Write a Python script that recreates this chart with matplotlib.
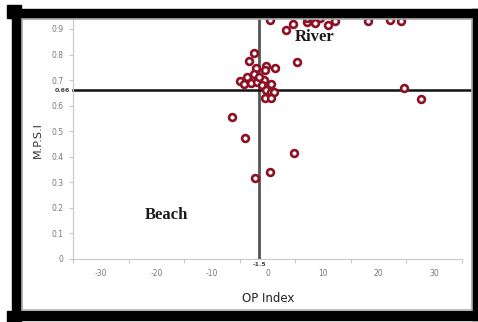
import matplotlib
matplotlib.use("Agg")
import matplotlib.pyplot as plt
from matplotlib.patches import Rectangle

# Data
op_index = [0.4, 3.3, 4.5, 7.1, 7.1, 8.5, 9.5, 10.9, 12.2, 18.0, 22.0, 24.0,
            5.3, -2.4, -3.3, -2.0, -0.2, -0.4, 1.3, -2.4, -3.6, -4.9, -4.2,
            -2.9, -1.8, -0.7, -1.6, -0.9, 0.0, 0.7, -0.2, 0.7, 1.1, -0.5, 0.7,
            24.5, 27.6, -6.4, -4.0, 4.7, 0.4, -2.2]
mpsi = [0.935, 0.896, 0.920, 0.927, 0.943, 0.923, 0.943, 0.915, 0.931, 0.931,
        0.935, 0.931, 0.771, 0.806, 0.775, 0.747, 0.755, 0.739, 0.747, 0.724,
        0.712, 0.696, 0.685, 0.689, 0.693, 0.700, 0.712, 0.681, 0.677, 0.685,
        0.661, 0.653, 0.653, 0.630, 0.630, 0.669, 0.626, 0.556, 0.473, 0.415,
        0.340, 0.317]
x_threshold = -1.5
y_threshold = 0.66
x_tick_labels = [-30, -20, -10, 0, 10, 20, 30]
x_tick_marks = [-35, -25, -15, -5, 5, 15, 25, 35]
y_ticks = [0, 0.1, 0.2, 0.3, 0.4, 0.5, 0.6, 0.7, 0.8, 0.9]
y_tick_labels = ["0", "0.1", "0.2", "0.3", "0.4", "0.5", "0.6", "0.7", "0.8", "0.9"]

W, H = 478, 322
fig = plt.figure(figsize=(W / 100, H / 100), dpi=100)
fig.patch.set_facecolor("white")

def frect(x0, y0, x1, y1, **kw):
    # pixel coords (top-left origin) -> figure rect
    fig.patches.append(Rectangle((x0 / W, 1 - y1 / H), (x1 - x0) / W, (y1 - y0) / H,
                                 transform=fig.transFigure, **kw))

# thick black frame
frect(10, 9, 478, 18, color="black", zorder=0)
frect(12, 9, 21, 320, color="black", zorder=0)
frect(12, 311, 478, 320, color="black", zorder=0)
frect(472, 9, 478, 320, color="black", zorder=0)
frect(7, 5, 21, 18, color="black", zorder=0)
frect(7, 311, 21, 322, color="black", zorder=0)
# thin gray chart-area border
frect(22, 19, 472, 310, facecolor="none", edgecolor="#b0b0b0", linewidth=1.2, zorder=0)

ax = fig.add_axes([73 / W, 1 - 259 / H, (462 - 73) / W, (259 - 18) / H])
ax.set_xlim(-35, 35)
ax.set_ylim(0, 0.943)
ax.set_facecolor("none")

for s in ["top", "right"]:
    ax.spines[s].set_visible(False)
ax.spines["left"].set_color("#c8c8c8")
ax.spines["bottom"].set_color("#c8c8c8")

ax.set_xticks(x_tick_marks)
ax.set_xticklabels([])
ax.set_xticks(x_tick_labels, minor=True)
ax.set_xticklabels([str(v) for v in x_tick_labels], minor=True)
ax.tick_params(axis="x", which="major", length=3, color="#c8c8c8")
ax.tick_params(axis="x", which="minor", length=0, labelsize=5.5, labelcolor="#777777", pad=7)
ax.set_yticks(y_ticks)
ax.set_yticklabels(y_tick_labels)
ax.tick_params(axis="y", length=3, color="#c8c8c8", labelsize=5.5, labelcolor="#777777", pad=4)

ax.axvline(x_threshold, color="#555555", linewidth=2, zorder=2)
ax.axhline(y_threshold, xmin=0, xmax=(473 - 73) / (462 - 73), color="#111111",
           linewidth=1.8, clip_on=False, zorder=2)

ax.scatter(op_index, mpsi, s=24, facecolors="white", edgecolors="#8e1023",
           linewidths=1.9, zorder=3)

ax.text(x_threshold, -0.012, "-1.5", fontsize=4.5, fontweight="bold", color="#444444",
        ha="center", va="top")
ax.text(-35.5, y_threshold, "0.66", fontsize=4.5, fontweight="bold", color="#444444",
        ha="right", va="center")

ax.text(8.5, 0.87, "River", family="Liberation Serif", fontweight="bold", fontsize=12,
        color="#1a1a1a", ha="center", va="center")
ax.text(-18.2, 0.172, "Beach", family="Liberation Serif", fontweight="bold", fontsize=12,
        color="#1a1a1a", ha="center", va="center")

fig.text(268 / W, 1 - 299 / H, "OP Index", fontsize=8.5, color="#222222",
         ha="center", va="center")
fig.text(38 / W, 1 - 140 / H, "M.P.S.I", fontsize=8, color="#333333", rotation=90,
         ha="center", va="center")

fig.savefig("out.png", dpi=100)
